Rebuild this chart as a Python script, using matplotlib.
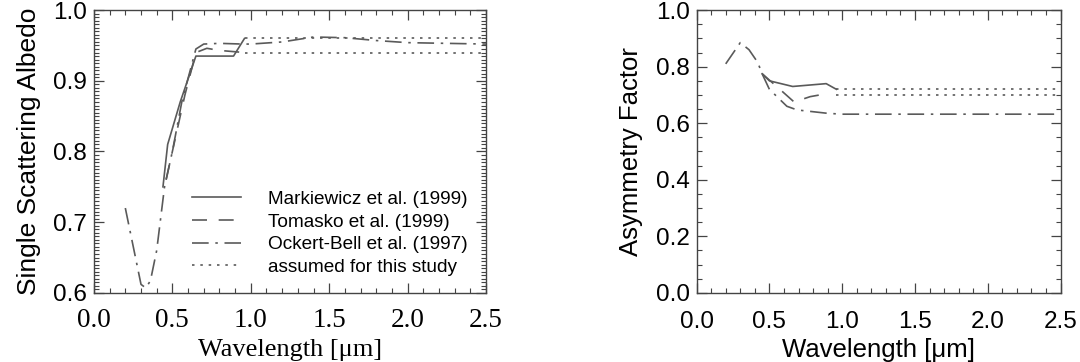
import numpy as np
import matplotlib
matplotlib.use("Agg")
import matplotlib.pyplot as plt
from matplotlib.ticker import MultipleLocator, FormatStrFormatter

plt.rcParams['font.family'] = ['Liberation Sans', 'DejaVu Sans']

# Single scattering albedo vs wavelength (micron)
mark_wl_ssa = [0.44, 0.47, 0.55, 0.65, 0.89, 0.96]
mark_ssa = [0.75, 0.81, 0.87, 0.935, 0.935, 0.96]

toma_wl_ssa = [0.46, 0.50, 0.58, 0.65, 0.72, 0.80, 0.96]
toma_ssa = [0.76, 0.80, 0.88, 0.94, 0.946, 0.943, 0.94]

ockert_wl_ssa = [0.20, 0.30, 0.33, 0.36, 0.40, 0.45, 0.50, 0.56, 0.65, 0.70,
                 0.80, 0.95, 1.0, 1.2, 1.4, 1.6, 1.8, 2.0, 2.5]
ockert_ssa = [0.72, 0.612, 0.607, 0.617, 0.66, 0.75, 0.80, 0.87, 0.945, 0.952,
              0.953, 0.952, 0.952, 0.955, 0.962, 0.961, 0.957, 0.954, 0.952]

assumed_wl = [0.96, 2.5]
assumed_ssa_hi = [0.96, 0.96]
assumed_ssa_lo = [0.939, 0.939]

# Asymmetry factor vs wavelength
mark_wl_g = [0.45, 0.50, 0.66, 0.89, 0.96]
mark_g = [0.775, 0.75, 0.73, 0.74, 0.72]

toma_wl_g = [0.45, 0.55, 0.67, 0.78, 0.90]
toma_g = [0.775, 0.73, 0.675, 0.694, 0.705]

ockert_wl_g = [0.20, 0.30, 0.36, 0.42, 0.45, 0.50, 0.62, 0.69, 0.90, 1.0, 2.5]
ockert_g = [0.81, 0.885, 0.86, 0.815, 0.775, 0.72, 0.66, 0.647, 0.635, 0.632, 0.632]

assumed_g_hi = [0.72, 0.72]
assumed_g_lo = [0.70, 0.70]

labels = ["Markiewicz et al. (1999)", "Tomasko et al. (1999)",
          "Ockert-Bell et al. (1997)", "assumed for this study"]

col = '#5a5a5a'
lw = 1.2
st_mark = dict(color=col, lw=lw, ls='-')
st_toma = dict(color=col, lw=lw, dashes=(9, 7))
st_ock = dict(color=col, lw=lw, dashes=(10, 4, 1.5, 4))
st_ass = dict(color=col, lw=lw, dashes=(1.5, 3.5))

fig = plt.figure(figsize=(10.8, 3.62), dpi=100)
ax1 = fig.add_axes([0.087, 0.191, 0.363, 0.781])
ax2 = fig.add_axes([0.645, 0.191, 0.337, 0.781])

ax1.plot(mark_wl_ssa, mark_ssa, label=labels[0], **st_mark)
ax1.plot(toma_wl_ssa, toma_ssa, label=labels[1], **st_toma)
ax1.plot(ockert_wl_ssa, ockert_ssa, label=labels[2], **st_ock)
ax1.plot(assumed_wl, assumed_ssa_hi, label=labels[3], **st_ass)
ax1.plot(assumed_wl, assumed_ssa_lo, **st_ass)

ax2.plot(mark_wl_g, mark_g, **st_mark)
ax2.plot(toma_wl_g, toma_g, **st_toma)
ax2.plot(ockert_wl_g, ockert_g, **st_ock)
ax2.plot(assumed_wl, assumed_g_hi, **st_ass)
ax2.plot(assumed_wl, assumed_g_lo, **st_ass)

ax1.set_xlim(0, 2.5)
ax1.set_ylim(0.6, 1.0)
ax2.set_xlim(0, 2.5)
ax2.set_ylim(0, 1.0)

ax1.xaxis.set_major_locator(MultipleLocator(0.5))
ax1.xaxis.set_minor_locator(MultipleLocator(0.1))
ax1.yaxis.set_major_locator(MultipleLocator(0.1))
ax1.yaxis.set_minor_locator(MultipleLocator(0.005))
ax2.xaxis.set_major_locator(MultipleLocator(0.5))
ax2.xaxis.set_minor_locator(MultipleLocator(0.1))
ax2.yaxis.set_major_locator(MultipleLocator(0.2))
ax2.yaxis.set_minor_locator(MultipleLocator(0.05))

for ax in (ax1, ax2):
    ax.xaxis.set_major_formatter(FormatStrFormatter('%.1f'))
    ax.yaxis.set_major_formatter(FormatStrFormatter('%.1f'))
    ax.tick_params(which='both', direction='in', top=True, right=True,
                   color='#444444', labelsize=17.5)
    ax.tick_params(which='major', length=7, width=0.9)
    ax.tick_params(which='minor', length=3.5, width=0.8)
    ax.tick_params(axis='x', pad=13)
    ax.tick_params(axis='y', pad=5)
    for sp in ax.spines.values():
        sp.set_color('#444444')
        sp.set_linewidth(1.0)

# left panel uses a serif face on the wavelength axis
for t in ax1.get_xticklabels():
    t.set_family(['Liberation Serif', 'DejaVu Serif'])
    t.set_fontsize(19.5)
ax1.tick_params(axis='x', pad=11)
ax1.set_xlabel("Wavelength [μm]", fontsize=19,
               family=['Liberation Serif', 'DejaVu Serif'], labelpad=4)
ax1.set_ylabel("Single Scattering Albedo", fontsize=19, labelpad=9)
ax2.set_xlabel("Wavelength [μm]", fontsize=18.5, labelpad=4)
ax2.set_ylabel("Asymmetry Factor", fontsize=18.5, labelpad=9)

ax1.legend(loc='lower left', bbox_to_anchor=(0.25, 0.06), frameon=False,
           fontsize=13.7, handlelength=2.6, handletextpad=1.4,
           labelspacing=0.28, borderpad=0, borderaxespad=0)

fig.savefig("out.png", dpi=100)
